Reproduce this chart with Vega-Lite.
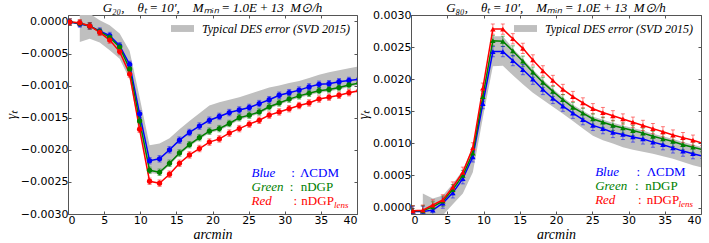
{
"$schema": "https://vega.github.io/schema/vega-lite/v6.json",
"padding": {"left": 3, "top": 1, "right": 0, "bottom": 0},
"spacing": -7,
"config": {
  "view": {"stroke": "#555", "strokeWidth": 1},
  "title": {"font": "Liberation Serif", "fontStyle": "italic", "fontWeight": "normal", "fontSize": 13, "color": "black"},
  "axis": {"labelFont": "DejaVu Sans", "labelFontSize": 11, "labelColor": "black", "titleFont": "Liberation Serif", "titleFontStyle": "italic", "titleFontWeight": "normal", "titleFontSize": 14, "titleColor": "black", "domain": false, "grid": false, "tickColor": "#555", "tickSize": -3, "labelPadding": 3, "titlePadding": 2},
  "legend": {"padding": 0}
},
"datasets": {
"L": [
{"m":"b","x":0.25,"y":-0.00001,"e":0.00005},{"m":"b","x":1.63,"y":-0.00004,"e":0.00005},{"m":"b","x":3.01,"y":-0.00007,"e":0.00005},{"m":"b","x":4.39,"y":-0.00015,"e":0.00005},{"m":"b","x":5.77,"y":-0.00022,"e":0.00005},{"m":"b","x":7.15,"y":-0.00038,"e":0.00005},{"m":"b","x":8.53,"y":-0.00067,"e":0.00005},{"m":"b","x":9.91,"y":-0.00144,"e":0.00005},{"m":"b","x":11.29,"y":-0.00217,"e":0.00005},{"m":"b","x":12.67,"y":-0.00214,"e":0.00005},{"m":"b","x":14.05,"y":-0.002,"e":0.00005},{"m":"b","x":15.43,"y":-0.00185,"e":0.00005},{"m":"b","x":16.81,"y":-0.00173,"e":0.00005},{"m":"b","x":18.19,"y":-0.00163,"e":0.00005},{"m":"b","x":19.57,"y":-0.00154,"e":0.00005},{"m":"b","x":20.95,"y":-0.00148,"e":0.00005},{"m":"b","x":22.33,"y":-0.00142,"e":0.00005},{"m":"b","x":23.71,"y":-0.00138,"e":0.00005},{"m":"b","x":25.09,"y":-0.00134,"e":0.00005},{"m":"b","x":26.47,"y":-0.00128,"e":0.00005},{"m":"b","x":27.85,"y":-0.00122,"e":0.00005},{"m":"b","x":29.23,"y":-0.00115,"e":0.00005},{"m":"b","x":30.61,"y":-0.00111,"e":0.00005},{"m":"b","x":31.99,"y":-0.00107,"e":0.00005},{"m":"b","x":33.37,"y":-0.00102,"e":0.00005},{"m":"b","x":34.75,"y":-0.00098,"e":0.00005},{"m":"b","x":36.13,"y":-0.00097,"e":0.00005},{"m":"b","x":37.51,"y":-0.00094,"e":0.00005},{"m":"b","x":38.89,"y":-0.00092,"e":0.00005},{"m":"b","x":40.27,"y":-0.0009,"e":0.00005},
{"m":"g","x":0.25,"y":-0.00001,"e":0.00005},{"m":"g","x":1.63,"y":-0.00003,"e":0.00005},{"m":"g","x":3.01,"y":-0.00007,"e":0.00005},{"m":"g","x":4.39,"y":-0.00016,"e":0.00005},{"m":"g","x":5.77,"y":-0.00025,"e":0.00005},{"m":"g","x":7.15,"y":-0.0004,"e":0.00005},{"m":"g","x":8.53,"y":-0.00074,"e":0.00005},{"m":"g","x":9.91,"y":-0.00155,"e":0.00005},{"m":"g","x":11.29,"y":-0.00232,"e":0.00005},{"m":"g","x":12.67,"y":-0.00235,"e":0.00005},{"m":"g","x":14.05,"y":-0.00221,"e":0.00005},{"m":"g","x":15.43,"y":-0.00205,"e":0.00005},{"m":"g","x":16.81,"y":-0.00192,"e":0.00005},{"m":"g","x":18.19,"y":-0.00181,"e":0.00005},{"m":"g","x":19.57,"y":-0.00171,"e":0.00005},{"m":"g","x":20.95,"y":-0.00167,"e":0.00005},{"m":"g","x":22.33,"y":-0.00159,"e":0.00005},{"m":"g","x":23.71,"y":-0.0015,"e":0.00005},{"m":"g","x":25.09,"y":-0.00146,"e":0.00005},{"m":"g","x":26.47,"y":-0.00141,"e":0.00005},{"m":"g","x":27.85,"y":-0.00133,"e":0.00005},{"m":"g","x":29.23,"y":-0.00127,"e":0.00005},{"m":"g","x":30.61,"y":-0.00121,"e":0.00005},{"m":"g","x":31.99,"y":-0.00116,"e":0.00005},{"m":"g","x":33.37,"y":-0.00112,"e":0.00005},{"m":"g","x":34.75,"y":-0.00108,"e":0.00005},{"m":"g","x":36.13,"y":-0.00106,"e":0.00005},{"m":"g","x":37.51,"y":-0.00103,"e":0.00005},{"m":"g","x":38.89,"y":-0.00099,"e":0.00005},{"m":"g","x":40.27,"y":-0.00096,"e":0.00005},
{"m":"r","x":0.25,"y":-0.00001,"e":0.00005},{"m":"r","x":1.63,"y":-0.00002,"e":0.00005},{"m":"r","x":3.01,"y":-0.00007,"e":0.00005},{"m":"r","x":4.39,"y":-0.00017,"e":0.00005},{"m":"r","x":5.77,"y":-0.00029,"e":0.00005},{"m":"r","x":7.15,"y":-0.00047,"e":0.00005},{"m":"r","x":8.53,"y":-0.00082,"e":0.00005},{"m":"r","x":9.91,"y":-0.00168,"e":0.00005},{"m":"r","x":11.29,"y":-0.00249,"e":0.00005},{"m":"r","x":12.67,"y":-0.00252,"e":0.00005},{"m":"r","x":14.05,"y":-0.00238,"e":0.00005},{"m":"r","x":15.43,"y":-0.00221,"e":0.00005},{"m":"r","x":16.81,"y":-0.00208,"e":0.00005},{"m":"r","x":18.19,"y":-0.00198,"e":0.00005},{"m":"r","x":19.57,"y":-0.00188,"e":0.00005},{"m":"r","x":20.95,"y":-0.00183,"e":0.00005},{"m":"r","x":22.33,"y":-0.00174,"e":0.00005},{"m":"r","x":23.71,"y":-0.00167,"e":0.00005},{"m":"r","x":25.09,"y":-0.0016,"e":0.00005},{"m":"r","x":26.47,"y":-0.00154,"e":0.00005},{"m":"r","x":27.85,"y":-0.00146,"e":0.00005},{"m":"r","x":29.23,"y":-0.00141,"e":0.00005},{"m":"r","x":30.61,"y":-0.00136,"e":0.00005},{"m":"r","x":31.99,"y":-0.00131,"e":0.00005},{"m":"r","x":33.37,"y":-0.00127,"e":0.00005},{"m":"r","x":34.75,"y":-0.00121,"e":0.00005},{"m":"r","x":36.13,"y":-0.00118,"e":0.00005},{"m":"r","x":37.51,"y":-0.00115,"e":0.00005},{"m":"r","x":38.89,"y":-0.00111,"e":0.00005},{"m":"r","x":40.27,"y":-0.00108,"e":0.00005}
],
"R": [
{"m":"b","x":0.25,"y":-0.00006,"e":0.00008},{"m":"b","x":1.63,"y":-0.00006,"e":0.00008},{"m":"b","x":3.01,"y":-0.00004,"e":0.00008},{"m":"b","x":4.39,"y":0.00007,"e":0.00008},{"m":"b","x":5.77,"y":0.00023,"e":0.00008},{"m":"b","x":7.15,"y":0.00045,"e":0.00008},{"m":"b","x":8.53,"y":0.00079,"e":0.00008},{"m":"b","x":9.91,"y":0.00162,"e":0.00008},{"m":"b","x":11.29,"y":0.00243,"e":0.00008},{"m":"b","x":12.67,"y":0.00243,"e":0.00008},{"m":"b","x":14.05,"y":0.00229,"e":0.00008},{"m":"b","x":15.43,"y":0.00215,"e":0.00008},{"m":"b","x":16.81,"y":0.002,"e":0.00008},{"m":"b","x":18.19,"y":0.00184,"e":0.00008},{"m":"b","x":19.57,"y":0.0017,"e":0.00008},{"m":"b","x":20.95,"y":0.00158,"e":0.00008},{"m":"b","x":22.33,"y":0.00147,"e":0.00008},{"m":"b","x":23.71,"y":0.00137,"e":0.00008},{"m":"b","x":25.09,"y":0.00128,"e":0.00008},{"m":"b","x":26.47,"y":0.00123,"e":0.00008},{"m":"b","x":27.85,"y":0.00117,"e":0.00008},{"m":"b","x":29.23,"y":0.00114,"e":0.00008},{"m":"b","x":30.61,"y":0.0011,"e":0.00008},{"m":"b","x":31.99,"y":0.00107,"e":0.00008},{"m":"b","x":33.37,"y":0.00102,"e":0.00008},{"m":"b","x":34.75,"y":0.00098,"e":0.00008},{"m":"b","x":36.13,"y":0.00093,"e":0.00008},{"m":"b","x":37.51,"y":0.00088,"e":0.00008},{"m":"b","x":38.89,"y":0.00084,"e":0.00008},{"m":"b","x":40.27,"y":0.0008,"e":0.00008},
{"m":"g","x":0.25,"y":-0.00005,"e":0.00008},{"m":"g","x":1.63,"y":-0.00005,"e":0.00008},{"m":"g","x":3.01,"y":0.00001,"e":0.00008},{"m":"g","x":4.39,"y":0.0001,"e":0.00008},{"m":"g","x":5.77,"y":0.00028,"e":0.00008},{"m":"g","x":7.15,"y":0.0005,"e":0.00008},{"m":"g","x":8.53,"y":0.00085,"e":0.00008},{"m":"g","x":9.91,"y":0.00173,"e":0.00008},{"m":"g","x":11.29,"y":0.0026,"e":0.00008},{"m":"g","x":12.67,"y":0.00259,"e":0.00008},{"m":"g","x":14.05,"y":0.00244,"e":0.00008},{"m":"g","x":15.43,"y":0.00228,"e":0.00008},{"m":"g","x":16.81,"y":0.00211,"e":0.00008},{"m":"g","x":18.19,"y":0.00195,"e":0.00008},{"m":"g","x":19.57,"y":0.00181,"e":0.00008},{"m":"g","x":20.95,"y":0.00168,"e":0.00008},{"m":"g","x":22.33,"y":0.00156,"e":0.00008},{"m":"g","x":23.71,"y":0.00147,"e":0.00008},{"m":"g","x":25.09,"y":0.00138,"e":0.00008},{"m":"g","x":26.47,"y":0.00133,"e":0.00008},{"m":"g","x":27.85,"y":0.00128,"e":0.00008},{"m":"g","x":29.23,"y":0.00124,"e":0.00008},{"m":"g","x":30.61,"y":0.0012,"e":0.00008},{"m":"g","x":31.99,"y":0.00116,"e":0.00008},{"m":"g","x":33.37,"y":0.00111,"e":0.00008},{"m":"g","x":34.75,"y":0.00107,"e":0.00008},{"m":"g","x":36.13,"y":0.00103,"e":0.00008},{"m":"g","x":37.51,"y":0.00098,"e":0.00008},{"m":"g","x":38.89,"y":0.00094,"e":0.00008},{"m":"g","x":40.27,"y":0.0009,"e":0.00008},
{"m":"r","x":0.25,"y":-0.00005,"e":0.00008},{"m":"r","x":1.63,"y":-0.00004,"e":0.00008},{"m":"r","x":3.01,"y":0.00004,"e":0.00008},{"m":"r","x":4.39,"y":0.00012,"e":0.00008},{"m":"r","x":5.77,"y":0.00032,"e":0.00008},{"m":"r","x":7.15,"y":0.00055,"e":0.00008},{"m":"r","x":8.53,"y":0.00093,"e":0.00008},{"m":"r","x":9.91,"y":0.00186,"e":0.00008},{"m":"r","x":11.29,"y":0.00278,"e":0.00008},{"m":"r","x":12.67,"y":0.00278,"e":0.00008},{"m":"r","x":14.05,"y":0.00263,"e":0.00008},{"m":"r","x":15.43,"y":0.00248,"e":0.00008},{"m":"r","x":16.81,"y":0.0023,"e":0.00008},{"m":"r","x":18.19,"y":0.00213,"e":0.00008},{"m":"r","x":19.57,"y":0.00198,"e":0.00008},{"m":"r","x":20.95,"y":0.00184,"e":0.00008},{"m":"r","x":22.33,"y":0.00173,"e":0.00008},{"m":"r","x":23.71,"y":0.00163,"e":0.00008},{"m":"r","x":25.09,"y":0.00154,"e":0.00008},{"m":"r","x":26.47,"y":0.00148,"e":0.00008},{"m":"r","x":27.85,"y":0.00143,"e":0.00008},{"m":"r","x":29.23,"y":0.00138,"e":0.00008},{"m":"r","x":30.61,"y":0.00133,"e":0.00008},{"m":"r","x":31.99,"y":0.00128,"e":0.00008},{"m":"r","x":33.37,"y":0.00123,"e":0.00008},{"m":"r","x":34.75,"y":0.00118,"e":0.00008},{"m":"r","x":36.13,"y":0.00113,"e":0.00008},{"m":"r","x":37.51,"y":0.00109,"e":0.00008},{"m":"r","x":38.89,"y":0.00105,"e":0.00008},{"m":"r","x":40.27,"y":0.001,"e":0.00008}
],
"bL": [
{"x":1.63,"lo":-0.00032,"hi":0.00015},{"x":3.01,"lo":-0.00027,"hi":0.00012},{"x":4.39,"lo":-0.00033,"hi":0.00002},{"x":5.77,"lo":-0.00045,"hi":-0.00006},{"x":7.15,"lo":-0.00058,"hi":-0.00019},{"x":8.53,"lo":-0.0009,"hi":-0.00046},{"x":9.91,"lo":-0.0017,"hi":-0.00118},{"x":11.29,"lo":-0.00236,"hi":-0.00193},{"x":12.67,"lo":-0.00238,"hi":-0.0019},{"x":14.05,"lo":-0.00224,"hi":-0.00182},{"x":15.43,"lo":-0.00208,"hi":-0.00168},{"x":16.81,"lo":-0.00195,"hi":-0.00155},{"x":18.19,"lo":-0.00184,"hi":-0.00143},{"x":19.57,"lo":-0.00174,"hi":-0.00131},{"x":20.95,"lo":-0.0017,"hi":-0.00126},{"x":22.33,"lo":-0.00162,"hi":-0.00122},{"x":23.71,"lo":-0.00153,"hi":-0.00118},{"x":25.09,"lo":-0.00149,"hi":-0.00113},{"x":26.47,"lo":-0.00144,"hi":-0.00108},{"x":27.85,"lo":-0.00136,"hi":-0.00103},{"x":29.23,"lo":-0.0013,"hi":-0.001},{"x":30.61,"lo":-0.00124,"hi":-0.00096},{"x":31.99,"lo":-0.00119,"hi":-0.00093},{"x":33.37,"lo":-0.00115,"hi":-0.00088},{"x":34.75,"lo":-0.00111,"hi":-0.00083},{"x":36.13,"lo":-0.00109,"hi":-0.00079},{"x":37.51,"lo":-0.00106,"hi":-0.00076},{"x":38.89,"lo":-0.00102,"hi":-0.00073},{"x":40.27,"lo":-0.00099,"hi":-0.0007}
],
"bR": [
{"x":1.63,"lo":-0.00035,"hi":0.00022},{"x":3.01,"lo":-0.00025,"hi":0.00014},{"x":4.39,"lo":-0.00012,"hi":0.00019},{"x":5.77,"lo":0.00005,"hi":0.00037},{"x":7.15,"lo":0.00022,"hi":0.00058},{"x":8.53,"lo":0.00055,"hi":0.00095},{"x":9.91,"lo":0.0014,"hi":0.0018},{"x":11.29,"lo":0.0022,"hi":0.00267},{"x":12.67,"lo":0.00221,"hi":0.00267},{"x":14.05,"lo":0.00206,"hi":0.00248},{"x":15.43,"lo":0.00192,"hi":0.00232},{"x":16.81,"lo":0.00179,"hi":0.00215},{"x":18.19,"lo":0.00168,"hi":0.00199},{"x":19.57,"lo":0.00157,"hi":0.00185},{"x":20.95,"lo":0.00146,"hi":0.00172},{"x":22.33,"lo":0.00135,"hi":0.0016},{"x":23.71,"lo":0.00123,"hi":0.00151},{"x":25.09,"lo":0.00112,"hi":0.00142},{"x":26.47,"lo":0.00105,"hi":0.00137},{"x":27.85,"lo":0.001,"hi":0.00132},{"x":29.23,"lo":0.00094,"hi":0.00128},{"x":30.61,"lo":0.0009,"hi":0.00124},{"x":31.99,"lo":0.00087,"hi":0.0012},{"x":33.37,"lo":0.00084,"hi":0.00115},{"x":34.75,"lo":0.0008,"hi":0.00111},{"x":36.13,"lo":0.00076,"hi":0.00107},{"x":37.51,"lo":0.00071,"hi":0.00102},{"x":38.89,"lo":0.00066,"hi":0.00098},{"x":40.27,"lo":0.00062,"hi":0.00094}
],
"tL": [
{"k":"n","t":"Blue","m":"b","x":25.4,"y":-0.00236},{"k":"c","t":":","m":"b","x":30.9,"y":-0.00236},{"k":"c","t":"ΛCDM","m":"b","x":32.1,"y":-0.00236},
{"k":"n","t":"Green","m":"g","x":25.4,"y":-0.00258},{"k":"c","t":":","m":"g","x":30.7,"y":-0.00258},{"k":"c","t":"nDGP","m":"g","x":32.2,"y":-0.00258},
{"k":"n","t":"Red","m":"r","x":25.4,"y":-0.0028},{"k":"c","t":":","m":"r","x":31.2,"y":-0.0028},{"k":"c","t":"nDGP","m":"r","x":32.3,"y":-0.0028},{"k":"s","t":"lens","m":"r","x":36.8,"y":-0.0028}
],
"tR": [
{"k":"n","t":"Blue","m":"b","x":25.4,"y":0.00055},{"k":"c","t":":","m":"b","x":31.1,"y":0.00055},{"k":"c","t":"ΛCDM","m":"b","x":32.5,"y":0.00055},
{"k":"n","t":"Green","m":"g","x":25.4,"y":0.000335},{"k":"c","t":":","m":"g","x":30.9,"y":0.000335},{"k":"c","t":"nDGP","m":"g","x":32.3,"y":0.000335},
{"k":"n","t":"Red","m":"r","x":25.4,"y":0.000113},{"k":"c","t":":","m":"r","x":31.3,"y":0.000113},{"k":"c","t":"nDGP","m":"r","x":32.5,"y":0.000113},{"k":"s","t":"lens","m":"r","x":36.9,"y":0.000113}
]
},
"resolve": {"scale": {"fill": "independent"}, "legend": {"fill": "independent"}},
"hconcat": [
{
 "width": 289, "height": 199,
 "title": {"text": "G₂₀,\u2002\u2002θₜ\u2009=\u200910′,\u2002\u2002Mₘᵢₙ\u2009=\u20091.0E\u2009+\u200913\u2002M⊙/h", "offset": 0},
 "resolve": {"axis": {"x": "independent", "y": "independent"}},
 "layer": [
  {"data": {"name": "bL"}, "mark": {"type": "area", "clip": true},
   "encoding": {
    "x": {"field": "x", "type": "quantitative", "scale": {"domain": [0, 40], "nice": false}, "axis": {"orient": "bottom", "values": [0,5,10,15,20,25,30,35,40], "format": "d", "title": "arcmin"}},
    "y": {"field": "lo", "type": "quantitative", "scale": {"domain": [-0.003, 0.0001], "nice": false, "zero": false}, "axis": {"orient": "left", "values": [-0.003,-0.0025,-0.002,-0.0015,-0.001,-0.0005,0], "format": ".4f", "title": "γₜ"}},
    "y2": {"field": "hi"},
    "fill": {"datum": "Typical DES error (SVD 2015)", "scale": {"range": ["#bfbfbf"]}, "legend": {"title": null, "orient": "none", "legendX": 103, "legendY": 2, "symbolType": "M-1,-0.3L1,-0.3L1,0.3L-1,0.3Z", "symbolSize": 529, "symbolStrokeWidth": 0, "labelFont": "Liberation Serif", "labelFontStyle": "italic", "labelFontSize": 12, "labelOffset": 8, "labelColor": "black"}}
   }},
  {"data": {"name": "bL"}, "mark": {"type": "point", "opacity": 0},
   "encoding": {
    "x": {"field": "x", "type": "quantitative", "axis": {"orient": "top", "values": [0,5,10,15,20,25,30,35,40], "labels": false, "title": null}},
    "y": {"field": "lo", "type": "quantitative", "axis": {"orient": "right", "values": [-0.003,-0.0025,-0.002,-0.0015,-0.001,-0.0005,0], "labels": false, "title": null}}
   }},
  {"data": {"name": "L"}, "mark": {"type": "errorbar", "ticks": {"size": 4}, "thickness": 1, "opacity": 0.5, "clip": true},
   "encoding": {
    "x": {"field": "x", "type": "quantitative", "axis": null},
    "y": {"field": "y", "type": "quantitative", "axis": null},
    "yError": {"field": "e"},
    "color": {"field": "m", "type": "nominal", "scale": {"domain": ["b","g","r"], "range": ["#0000ff","#008000","#ff0000"]}, "legend": null}
   }},
  {"data": {"name": "L"}, "mark": {"type": "line", "strokeWidth": 1.5, "clip": true},
   "encoding": {
    "x": {"field": "x", "type": "quantitative", "axis": null},
    "y": {"field": "y", "type": "quantitative", "axis": null},
    "color": {"field": "m", "type": "nominal", "legend": null}
   }},
  {"data": {"name": "L"}, "mark": {"type": "point", "filled": true, "opacity": 1, "size": 28, "shape": "circle", "clip": true},
   "encoding": {
    "x": {"field": "x", "type": "quantitative", "axis": null},
    "y": {"field": "y", "type": "quantitative", "axis": null},
    "color": {"field": "m", "type": "nominal", "legend": null}
   }},
  {"data": {"name": "tL"}, "transform": [{"filter": "datum.k == 'n'"}], "mark": {"type": "text", "font": "Liberation Serif", "fontStyle": "italic", "fontSize": 13, "align": "left", "baseline": "middle"},
   "encoding": {"x": {"field": "x", "type": "quantitative", "axis": null}, "y": {"field": "y", "type": "quantitative", "axis": null}, "text": {"field": "t"}, "color": {"field": "m", "type": "nominal", "legend": null}}},
  {"data": {"name": "tL"}, "transform": [{"filter": "datum.k == 'c'"}], "mark": {"type": "text", "font": "Liberation Serif", "fontSize": 13, "align": "left", "baseline": "middle"},
   "encoding": {"x": {"field": "x", "type": "quantitative", "axis": null}, "y": {"field": "y", "type": "quantitative", "axis": null}, "text": {"field": "t"}, "color": {"field": "m", "type": "nominal", "legend": null}}},
  {"data": {"name": "tL"}, "transform": [{"filter": "datum.k == 's'"}], "mark": {"type": "text", "font": "Liberation Serif", "fontStyle": "italic", "fontSize": 9, "align": "left", "baseline": "middle", "dy": 4},
   "encoding": {"x": {"field": "x", "type": "quantitative", "axis": null}, "y": {"field": "y", "type": "quantitative", "axis": null}, "text": {"field": "t"}, "color": {"field": "m", "type": "nominal", "legend": null}}}
 ]
},
{
 "width": 290, "height": 199,
 "title": {"text": "G₈₀,\u2002\u2002θₜ\u2009=\u200910′,\u2002\u2002Mₘᵢₙ\u2009=\u20091.0E\u2009+\u200913\u2002M⊙/h", "offset": -6},
 "resolve": {"axis": {"x": "independent", "y": "independent"}},
 "layer": [
  {"data": {"name": "bR"}, "mark": {"type": "area", "clip": true},
   "encoding": {
    "x": {"field": "x", "type": "quantitative", "scale": {"domain": [0, 40], "nice": false}, "axis": {"orient": "bottom", "values": [0,5,10,15,20,25,30,35,40], "format": "d", "title": "arcmin"}},
    "y": {"field": "lo", "type": "quantitative", "scale": {"domain": [-0.0001, 0.003], "nice": false, "zero": false}, "axis": {"orient": "left", "values": [0,0.0005,0.001,0.0015,0.002,0.0025,0.003], "format": ".4f", "title": "γₜ"}},
    "y2": {"field": "hi"},
    "fill": {"datum": "Typical DES error (SVD 2015)", "scale": {"range": ["#bfbfbf"]}, "legend": {"title": null, "orient": "none", "legendX": 103, "legendY": 2, "symbolType": "M-1,-0.3L1,-0.3L1,0.3L-1,0.3Z", "symbolSize": 529, "symbolStrokeWidth": 0, "labelFont": "Liberation Serif", "labelFontStyle": "italic", "labelFontSize": 12, "labelOffset": 8, "labelColor": "black"}}
   }},
  {"data": {"name": "bR"}, "mark": {"type": "point", "opacity": 0},
   "encoding": {
    "x": {"field": "x", "type": "quantitative", "axis": {"orient": "top", "values": [0,5,10,15,20,25,30,35,40], "labels": false, "title": null}},
    "y": {"field": "lo", "type": "quantitative", "axis": {"orient": "right", "values": [0,0.0005,0.001,0.0015,0.002,0.0025,0.003], "labels": false, "title": null}}
   }},
  {"data": {"name": "R"}, "mark": {"type": "errorbar", "ticks": {"size": 4}, "thickness": 1, "opacity": 0.5, "clip": true},
   "encoding": {
    "x": {"field": "x", "type": "quantitative", "axis": null},
    "y": {"field": "y", "type": "quantitative", "axis": null},
    "yError": {"field": "e"},
    "color": {"field": "m", "type": "nominal", "scale": {"domain": ["b","g","r"], "range": ["#0000ff","#008000","#ff0000"]}, "legend": null}
   }},
  {"data": {"name": "R"}, "mark": {"type": "line", "strokeWidth": 1.5, "clip": true},
   "encoding": {
    "x": {"field": "x", "type": "quantitative", "axis": null},
    "y": {"field": "y", "type": "quantitative", "axis": null},
    "color": {"field": "m", "type": "nominal", "legend": null}
   }},
  {"data": {"name": "R"}, "mark": {"type": "point", "filled": true, "opacity": 1, "size": 30, "shape": "triangle-up", "clip": true},
   "encoding": {
    "x": {"field": "x", "type": "quantitative", "axis": null},
    "y": {"field": "y", "type": "quantitative", "axis": null},
    "color": {"field": "m", "type": "nominal", "legend": null}
   }},
  {"data": {"name": "tR"}, "transform": [{"filter": "datum.k == 'n'"}], "mark": {"type": "text", "font": "Liberation Serif", "fontStyle": "italic", "fontSize": 13, "align": "left", "baseline": "middle"},
   "encoding": {"x": {"field": "x", "type": "quantitative", "axis": null}, "y": {"field": "y", "type": "quantitative", "axis": null}, "text": {"field": "t"}, "color": {"field": "m", "type": "nominal", "legend": null}}},
  {"data": {"name": "tR"}, "transform": [{"filter": "datum.k == 'c'"}], "mark": {"type": "text", "font": "Liberation Serif", "fontSize": 13, "align": "left", "baseline": "middle"},
   "encoding": {"x": {"field": "x", "type": "quantitative", "axis": null}, "y": {"field": "y", "type": "quantitative", "axis": null}, "text": {"field": "t"}, "color": {"field": "m", "type": "nominal", "legend": null}}},
  {"data": {"name": "tR"}, "transform": [{"filter": "datum.k == 's'"}], "mark": {"type": "text", "font": "Liberation Serif", "fontStyle": "italic", "fontSize": 9, "align": "left", "baseline": "middle", "dy": 4},
   "encoding": {"x": {"field": "x", "type": "quantitative", "axis": null}, "y": {"field": "y", "type": "quantitative", "axis": null}, "text": {"field": "t"}, "color": {"field": "m", "type": "nominal", "legend": null}}}
 ]
}
]
}
